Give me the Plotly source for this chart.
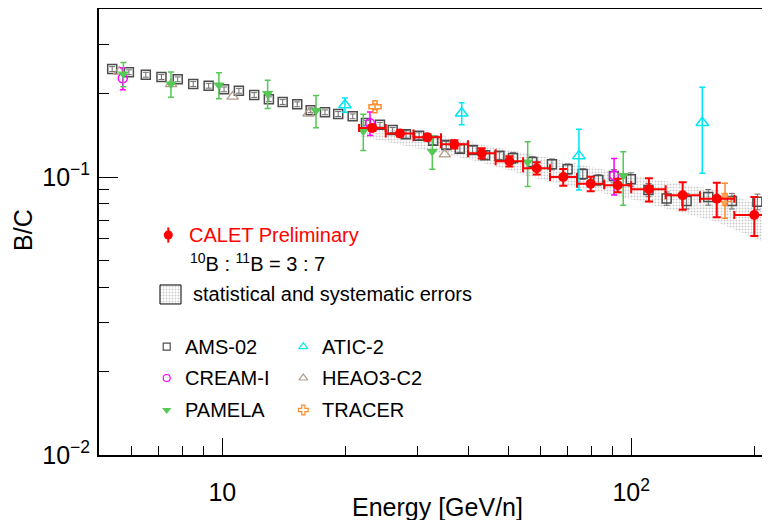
import plotly.graph_objects as go

# ---------------- data ----------------
ams_E = [5.38, 5.91, 6.50, 7.10, 7.78, 8.49, 9.26, 10.1, 10.98, 11.97, 13.0, 14.05,
         15.25, 16.45, 17.83, 19.21, 20.84, 22.46, 24.3, 26.1, 28.13, 30.3, 32.8, 35.3,
         38.1, 40.95, 43.9, 47.6, 51.4, 57.3, 64.0, 69.9, 76.1, 83.1, 90.7, 99.8,
         110.2, 122.1, 136.6, 154.3, 176.3, 203.5]
ams_BC = [0.2446, 0.2380, 0.2333, 0.2289, 0.2246, 0.2160, 0.2130, 0.2067, 0.2043, 0.1972,
          0.1904, 0.1861, 0.1826, 0.1738, 0.1709, 0.1685, 0.1653, 0.1564, 0.1542, 0.1476,
          0.1424, 0.1408, 0.1351, 0.1303, 0.1264, 0.1251, 0.1197, 0.1193, 0.1170, 0.1132,
          0.1111, 0.1066, 0.1025, 0.0975, 0.1008, 0.0981, 0.0898, 0.0837, 0.0820, 0.0847,
          0.0820, 0.0815]
ams_err = [0.0049, 0.0048, 0.0047, 0.0046, 0.0045, 0.0043, 0.0043, 0.0041, 0.0041, 0.0039,
           0.0038, 0.0037, 0.0037, 0.0035, 0.0034, 0.0034, 0.0033, 0.0031, 0.0031, 0.0030,
           0.0043, 0.0042, 0.0041, 0.0039, 0.0038, 0.0038, 0.0036, 0.0036, 0.0053, 0.0051,
           0.0050, 0.0048, 0.0046, 0.0044, 0.0055, 0.0054, 0.0049, 0.0046, 0.0053, 0.0055,
           0.0053, 0.0053]

calet_E = [23.27, 27.2, 31.72, 36.93, 43.1, 50.35, 58.74, 68.2, 79.6, 92.7, 110.5, 133.6, 161.9, 200.0]
calet_Elo = [21.6, 25.1, 29.35, 34.26, 39.9, 46.6, 54.4, 63.3, 73.7, 85.9, 100.0, 121.4, 147.3, 178.7]
calet_Ehi = [25.1, 29.35, 34.26, 39.9, 46.6, 54.4, 63.3, 73.7, 85.9, 100.0, 121.4, 147.3, 178.7, 223.9]
calet_BC = [0.1501, 0.1434, 0.1389, 0.1311, 0.1217, 0.1139, 0.1075, 0.1000, 0.0946, 0.0934,
            0.0903, 0.0860, 0.0835, 0.0730]
calet_err = [0.0038, 0.0036, 0.0035, 0.0045, 0.0051, 0.0048, 0.0055, 0.0069, 0.0057, 0.0052,
             0.0086, 0.0098, 0.0119, 0.0117]

band_E = [21.6, 30.4, 42.7, 61.5, 99.3, 161.9, 218.5]
band_hi = [0.1590, 0.1464, 0.1314, 0.1180, 0.1017, 0.0898, 0.0774]
band_lo = [0.1404, 0.1261, 0.1132, 0.0967, 0.0834, 0.0689, 0.0569]

pamela_E = [5.73, 7.49, 9.81, 12.91, 16.95, 22.12, 32.63, 55.83, 95.6]
pamela_BC = [0.2347, 0.2160, 0.2142, 0.1997, 0.1734, 0.1464, 0.1235, 0.1132, 0.1012]
pamela_err = [0.0234, 0.0224, 0.0231, 0.0232, 0.0230, 0.0219, 0.0169, 0.0208, 0.0220]

cream_E = [5.71, 22.97, 90.8]
cream_BC = [0.2265, 0.1561, 0.1014]
cream_err = [0.0207, 0.0152, 0.0152]

atic_E = [19.95, 38.5, 74.5, 149.2]
atic_BC = [0.1816, 0.1695, 0.1191, 0.1567]
atic_err = [0.0106, 0.0155, 0.0293, 0.0536]

heao_E = [5.6, 7.5, 10.6, 16.25, 35.0]
heao_BC = [0.2392, 0.2158, 0.1945, 0.1690, 0.1207]

tracer_E = [23.63, 169.6]
tracer_BC = [0.1790, 0.0830]
tracer_err = [0.0040, 0.0120]

x_tickvals = [10, 100]
x_ticktext = ["10", "10<sup>2</sup>"]
y_tickvals = [0.01, 0.1]
y_ticktext = ["10<sup>\u22122</sup>", "10<sup>\u22121</sup>"]

# ---------------- styles ----------------
FONT = "Liberation Sans, Arial, Helvetica, sans-serif"
C_AMS = "#4d4d4d"
C_CALET = "#ff0000"
C_PAM = "#55c855"
C_CREAM = "#ff00ff"
C_ATIC = "#00e5f5"
C_HEAO = "#b49b8c"
C_TRACER = "#ff8c28"
BAND_PATTERN = dict(shape=".", fgcolor="#959595", bgcolor="rgba(255,255,255,0)", size=3, solidity=0.3)

fig = go.Figure()

# systematic band
fig.add_trace(go.Scatter(
    x=band_E + band_E[::-1], y=band_hi + band_lo[::-1],
    mode="lines", fill="toself", line=dict(width=0),
    fillcolor="rgba(255,255,255,0)", fillpattern=BAND_PATTERN,
    hoverinfo="skip", showlegend=False))

fig.add_trace(go.Scatter(
    x=ams_E, y=ams_BC, mode="markers",
    marker=dict(symbol="square-open", size=9, color=C_AMS, line=dict(width=1.5)),
    error_y=dict(type="data", array=ams_err, color="#6e6e6e", thickness=1, width=3),
    showlegend=False))

fig.add_trace(go.Scatter(
    x=heao_E, y=heao_BC, mode="markers",
    marker=dict(symbol="triangle-up-open", size=10, color=C_HEAO, line=dict(width=1.3)),
    showlegend=False))

fig.add_trace(go.Scatter(
    x=cream_E, y=cream_BC, mode="markers",
    marker=dict(symbol="circle-open", size=9, color=C_CREAM, line=dict(width=1.5)),
    error_y=dict(type="data", array=cream_err, color=C_CREAM, thickness=1.5, width=3),
    showlegend=False))

fig.add_trace(go.Scatter(
    x=pamela_E, y=pamela_BC, mode="markers",
    marker=dict(symbol="triangle-down", size=10, color=C_PAM),
    error_y=dict(type="data", array=pamela_err, color=C_PAM, thickness=1.5, width=3),
    showlegend=False))

fig.add_trace(go.Scatter(
    x=atic_E, y=atic_BC, mode="markers",
    marker=dict(symbol="triangle-up-open", size=11, color=C_ATIC, line=dict(width=1.5)),
    error_y=dict(type="data", array=atic_err, color=C_ATIC, thickness=1.5, width=3),
    showlegend=False))

fig.add_trace(go.Scatter(
    x=tracer_E, y=tracer_BC, mode="markers",
    marker=dict(symbol="cross-open", size=10, color=C_TRACER, line=dict(width=1.5)),
    error_y=dict(type="data", array=tracer_err, color=C_TRACER, thickness=1.5, width=3),
    showlegend=False))

fig.add_trace(go.Scatter(
    x=calet_E, y=calet_BC, mode="markers",
    marker=dict(symbol="circle", size=10, color=C_CALET),
    error_y=dict(type="data", array=calet_err, color=C_CALET, thickness=2, width=4),
    error_x=dict(type="data",
                 array=[h - e for h, e in zip(calet_Ehi, calet_E)],
                 arrayminus=[e - l for e, l in zip(calet_E, calet_Elo)],
                 color=C_CALET, thickness=2, width=4),
    showlegend=False))

# ---------------- custom legend (paper-fraction layout on an overlay axis) ----------------
leg_text_size = 20
fig.add_trace(go.Scatter(x=[0.1033], y=[0.4933], xaxis="x2", yaxis="y2", mode="markers",
                         marker=dict(symbol="circle", size=9, color=C_CALET),
                         error_y=dict(type="constant", value=0.017, color=C_CALET, thickness=2, width=0),
                         showlegend=False, hoverinfo="skip"))
bx0, bx1, by0, by1 = 0.0909, 0.1222, 0.3386, 0.3812
fig.add_trace(go.Scatter(x=[bx0, bx1, bx1, bx0, bx0], y=[by0, by0, by1, by1, by0],
                         xaxis="x2", yaxis="y2", mode="lines", fill="toself",
                         line=dict(color="black", width=1), fillcolor="rgba(255,255,255,0)",
                         fillpattern=BAND_PATTERN, showlegend=False, hoverinfo="skip"))

legend_items = [
    ("AMS-02", dict(symbol="square-open", size=7, color=C_AMS, line=dict(width=1.2)), 0.1009, 0.2428),
    ("CREAM-I", dict(symbol="circle-open", size=7, color=C_CREAM, line=dict(width=1.2)), 0.1009, 0.1726),
    ("PAMELA", dict(symbol="triangle-down", size=8, color=C_PAM), 0.1009, 0.1009),
    ("ATIC-2", dict(symbol="triangle-up-open", size=8, color=C_ATIC, line=dict(width=1.2)), 0.3045, 0.2428),
    ("HEAO3-C2", dict(symbol="triangle-up-open", size=8, color=C_HEAO, line=dict(width=1.2)), 0.3045, 0.1726),
    ("TRACER", dict(symbol="cross-open", size=8, color=C_TRACER, line=dict(width=1.2)), 0.3045, 0.1009),
]
annotations = [
    dict(text="CALET Preliminary", x=0.1311, y=0.4933, font=dict(color=C_CALET, size=leg_text_size)),
    dict(text="<sup>10</sup>B : <sup>11</sup>B = 3 : 7", x=0.1321, y=0.4305,
         font=dict(color="black", size=leg_text_size)),
    dict(text="statistical and systematic errors", x=0.1366, y=0.361,
         font=dict(color="black", size=leg_text_size)),
]
for name, mk, lx, ly in legend_items:
    fig.add_trace(go.Scatter(x=[lx], y=[ly], xaxis="x2", yaxis="y2", mode="markers",
                             marker=mk, showlegend=False, hoverinfo="skip"))
    annotations.append(dict(text=name, x=lx + 0.0247, y=ly,
                            font=dict(color="black", size=leg_text_size)))
for a in annotations:
    a.update(xanchor="left")

# axis titles
annotations.append(dict(text="Energy [GeV/n]", x=0.505, y=-0.1166, xanchor="center",
                        font=dict(color="black", size=25)))
annotations.append(dict(text="B/C", x=-0.1133, y=0.5045, xanchor="center", textangle=-90,
                        font=dict(color="black", size=25)))
for a in annotations:
    a.update(xref="paper", yref="paper", yanchor="middle", showarrow=False)
    a["font"]["family"] = FONT

# the page body adds an 8 px offset; the figure is sized so that it fits the window exactly
fig.update_layout(
    width=762, height=512, autosize=False,
    margin=dict(l=91, r=0, t=1, b=65, pad=0, autoexpand=False),
    paper_bgcolor="white", plot_bgcolor="white",
    font=dict(family=FONT, color="black"),
    showlegend=False,
    annotations=annotations,
    xaxis=dict(type="log", range=[0.6985, 2.3394], automargin=False,
               showline=True, linewidth=2, linecolor="black", mirror=True,
               showgrid=False, zeroline=False,
               ticks="inside", ticklen=17, tickwidth=1, tickcolor="black",
               tickvals=x_tickvals, ticktext=x_ticktext,
               tickfont=dict(size=25), ticklabelstandoff=14,
               minor=dict(ticks="inside", ticklen=9, tickwidth=1, tickcolor="black",
                          tickmode="array",
                          tickvals=[6, 7, 8, 9, 20, 30, 40, 50, 60, 70, 80, 90, 200])),
    yaxis=dict(type="log", range=[-2, -0.3957], automargin=False,
               showline=True, linewidth=2, linecolor="black", mirror=False,
               showgrid=False, zeroline=False,
               ticks="inside", ticklen=19, tickwidth=1, tickcolor="black",
               tickvals=y_tickvals, ticktext=y_ticktext,
               tickfont=dict(size=25), ticklabelstandoff=2,
               minor=dict(ticks="inside", ticklen=10, tickwidth=1, tickcolor="black",
                          tickmode="array",
                          tickvals=[0.02, 0.03, 0.04, 0.05, 0.06, 0.07, 0.08, 0.09, 0.2, 0.3])),
    xaxis2=dict(overlaying="x", anchor="y2", range=[0, 1], visible=False, fixedrange=True),
    yaxis2=dict(overlaying="y", anchor="x2", range=[0, 1], visible=False, fixedrange=True),
)

fig.write_html("out.html")
